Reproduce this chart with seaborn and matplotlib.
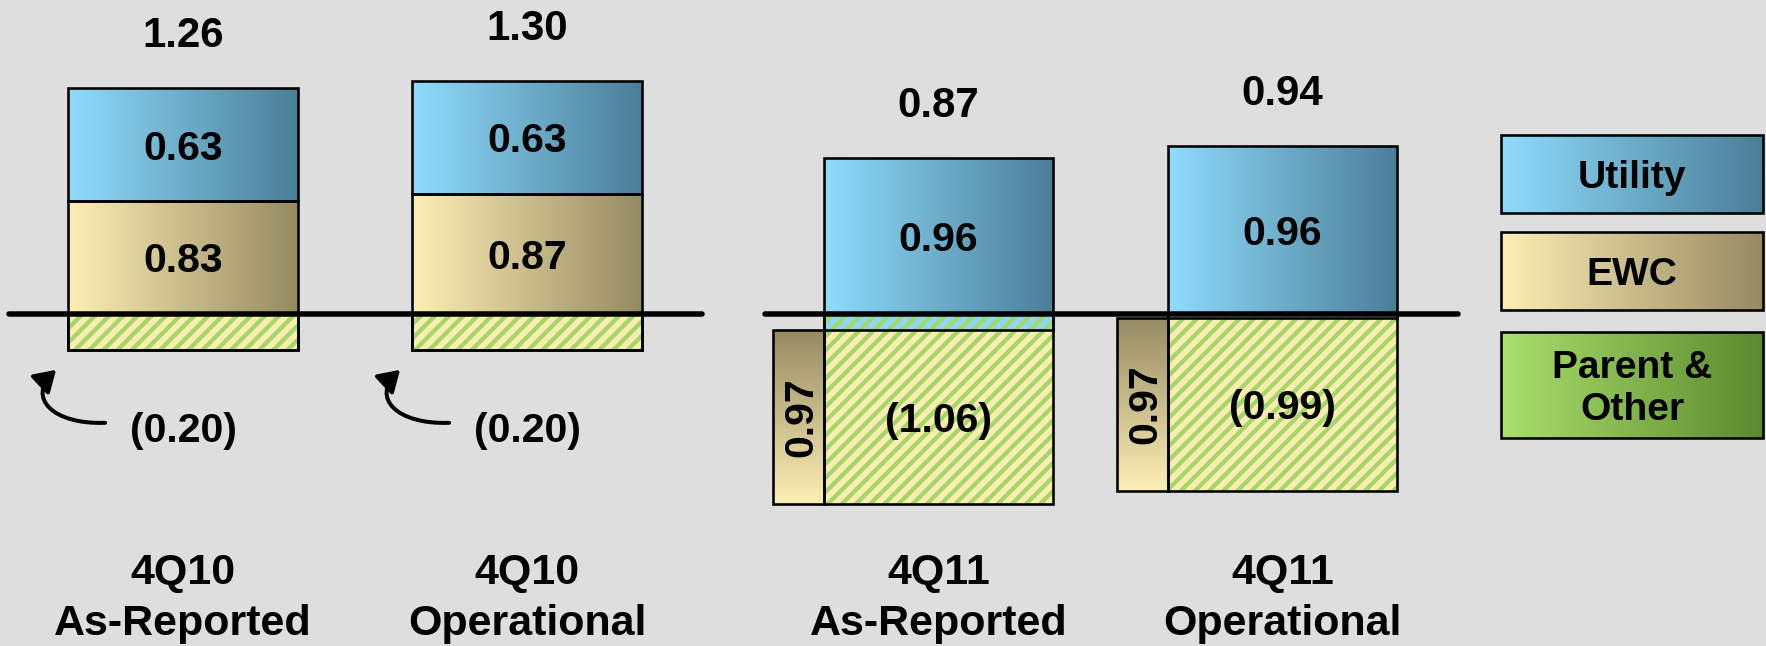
import numpy as np
import matplotlib
matplotlib.use("Agg")
import matplotlib.pyplot as plt
import seaborn as sns
from matplotlib.colors import LinearSegmentedColormap
from matplotlib.patches import Rectangle, FancyArrowPatch
from matplotlib.path import Path
from matplotlib import font_manager

# ---------------------------------------------------------------- data
periods = ["4Q10", "4Q10", "4Q11", "4Q11"]
bases = ["As-Reported", "Operational", "As-Reported", "Operational"]
utility = [0.63, 0.63, 0.96, 0.96]
ewc = [0.83, 0.87, 0.97, 0.97]
parent_other = [-0.20, -0.20, -1.06, -0.99]
eps_total = [1.26, 1.30, 0.87, 0.94]
legend_labels = ["Utility", "EWC", "Parent &\nOther"]

# ---------------------------------------------------------------- setup
DPI = 85
W, H = 1766, 646


def pt(px):
    """pixels -> points at the output resolution"""
    return px * 72 / DPI


sns.set_theme(style="white")
plt.rcParams["font.family"] = ["Liberation Sans", "DejaVu Sans"]
plt.rcParams["font.weight"] = "bold"
plt.rcParams["hatch.linewidth"] = pt(4.3)

installed = {f.name for f in font_manager.fontManager.ttflist}
if "Liberation Sans Narrow" in installed:
    CAT_FAMILY, CAT_SIZE = ["Liberation Sans Narrow", "DejaVu Sans"], 47.5
else:
    CAT_FAMILY, CAT_SIZE = ["Liberation Sans", "DejaVu Sans"], 43

BG = "#DEDEDE"
UTIL_GRAD = ("#8FDCFC", "#4B7E98")
EWC_GRAD = ("#FDEFB4", "#968A62")
PARENT_GRAD = ("#AAE06C", "#5B8A2F")
HATCH_BG = "#FBECB3"
HATCH_FG = "#A3D867"
STRIP = "#8FD7F6"
EDGE_LW = pt(2.6)

fig = plt.figure(figsize=(W / DPI, H / DPI), dpi=DPI, facecolor=BG)
ax = fig.add_axes([0, 0, 1, 1])
ax.set_facecolor(BG)

# layout: pixel scale of one data unit, and where x=0 / y=0 sit
PX_X, PX_Y = 344, 179
X0_PX, ZERO_PX = 183, 314


def to_data(px, py):
    return (px - X0_PX) / PX_X, (ZERO_PX - py) / PX_Y


# ---------------------------------------------------------------- waterfall geometry
util = np.array(utility)
ew = np.array(ewc)
par = np.array(parent_other)
tot = np.array(eps_total)

panel_names = list(dict.fromkeys(periods))
panel_idx = np.array([panel_names.index(p) for p in periods])
PANEL_GAP = 0.196
xpos = np.arange(len(periods)) + PANEL_GAP * panel_idx

BAR_W = 0.668
SIDE_W = 0.148

ewc_bottom = par
ewc_top = par + ew
util_bottom = ewc_top
side = ewc_top <= 0          # EWC column offset entirely below the axis


def bars(x, height, bottom, width, **kw):
    """Draw bars through seaborn on a native numeric x scale."""
    x = np.asarray(x, dtype=float)
    uniq = np.unique(x)
    native = np.min(np.diff(uniq)) if len(uniq) > 1 else 1.0
    before = len(ax.patches)
    sns.barplot(x=list(x), y=list(height), bottom=list(bottom), native_scale=True,
                width=width / native, errorbar=None, legend=False, ax=ax,
                color="black", saturation=1, **kw)
    return ax.patches[before:]


def shade(patches, colors, vertical=False):
    cmap = LinearSegmentedColormap.from_list("grad", list(colors))
    ramp = np.linspace(0, 1, 256)
    img = ramp[:, None] if vertical else ramp[None, :]
    for p in patches:
        x0, y0 = p.get_x(), p.get_y()
        x1, y1 = x0 + p.get_width(), y0 + p.get_height()
        im = ax.imshow(img, cmap=cmap, extent=(x0, x1, min(y0, y1), max(y0, y1)),
                       origin="lower", aspect="auto", interpolation="bilinear", zorder=2)
        im.set_clip_path(p)


outline = dict(facecolor="none", edgecolor="black", linewidth=EDGE_LW, zorder=4)

# Utility (top of each stack, ends at the total)
shade(bars(xpos, util, util_bottom, BAR_W, **outline), UTIL_GRAD)

# EWC in the main column
m = ~side
if m.any():
    shade(bars(xpos[m], ew[m], ewc_bottom[m], BAR_W, **outline), EWC_GRAD)
# EWC as a narrow offset column at the left of the bar
if side.any():
    shade(bars(xpos[side] - BAR_W / 2 - SIDE_W / 2, ew[side], ewc_bottom[side], SIDE_W,
               **outline), EWC_GRAD, vertical=True)

# Parent & Other: hatched, below the axis
bars(xpos, par, np.zeros_like(par), BAR_W, facecolor=HATCH_BG, edgecolor=HATCH_FG,
     hatch="//", linewidth=0, zorder=3)
# part of the Utility column that sits below the axis
strip = util_bottom < 0
if strip.any():
    bars(xpos[strip], -util_bottom[strip], util_bottom[strip], BAR_W, facecolor=STRIP,
         edgecolor=HATCH_FG, hatch="//", linewidth=0, zorder=3.5)
bars(xpos, par, np.zeros_like(par), BAR_W, **outline)

# zero line for each panel
for k in range(len(panel_names)):
    xs = xpos[panel_idx == k]
    ax.plot([xs.min() - 0.505, xs.max() + 0.51], [0, 0], color="black", lw=pt(5.5),
            solid_capstyle="round", zorder=6)


# ---------------------------------------------------------------- labels
def label(x, y, s, size_px, rotation=0, family=None):
    half_cap = 0.358 * size_px
    off = (pt(half_cap), 0) if rotation == 90 else (0, -pt(half_cap))
    kw = {} if family is None else {"family": family}
    ax.annotate(s, (x, y), xytext=off, textcoords="offset points", ha="center",
                va="baseline", rotation=rotation, rotation_mode="anchor",
                fontsize=pt(size_px), fontweight="bold", color="black", zorder=8, **kw)


VAL = 41
for i in range(len(periods)):
    x = xpos[i]
    # total EPS above the stack
    label(x, tot[i] + 56 / PX_Y, f"{tot[i]:.2f}", 42)
    # utility value, centred on the visible part above the axis
    label(x, (max(util_bottom[i], 0) + tot[i]) / 2, f"{util[i]:.2f}", VAL)
    # EWC value
    if side[i]:
        label(x - BAR_W / 2 - SIDE_W / 2, (ewc_bottom[i] + ewc_top[i]) / 2,
              f"{ew[i]:.2f}", VAL, rotation=90)
    else:
        label(x, (max(ewc_bottom[i], 0) + ewc_top[i]) / 2, f"{ew[i]:.2f}", VAL)
    # Parent & Other value
    ptxt = f"({abs(par[i]):.2f})"
    hatched_top = min(util_bottom[i], 0)
    if (hatched_top - par[i]) * PX_Y > 70:
        label(x, (hatched_top + par[i]) / 2, ptxt, VAL)
    else:
        label(x, par[i] - 78 / PX_Y, ptxt, VAL)
        left = x - BAR_W / 2
        verts = [(left + 37 / PX_X, par[i] - 73 / PX_Y),
                 (left - 15 / PX_X, par[i] - 75 / PX_Y),
                 (left - 42 / PX_X, par[i] - 48 / PX_Y),
                 (left - 12 / PX_X, par[i] - 20 / PX_Y)]
        path = Path(verts, [Path.MOVETO, Path.CURVE4, Path.CURVE4, Path.CURVE4])
        ax.add_patch(FancyArrowPatch(path=path, arrowstyle="-|>,head_length=0.8,head_width=0.5",
                                     mutation_scale=pt(22), lw=pt(4), color="black",
                                     zorder=7, shrinkA=0, shrinkB=0))
    # category label below the chart
    y1 = (ZERO_PX - 569) / PX_Y
    y2 = (ZERO_PX - 620) / PX_Y
    label(x, y1, periods[i], CAT_SIZE, family=CAT_FAMILY)
    label(x, y2, bases[i], CAT_SIZE, family=CAT_FAMILY)

# ---------------------------------------------------------------- legend boxes
legend_boxes = [(135, 213), (232, 310), (332, 438)]
legend_grads = [UTIL_GRAD, EWC_GRAD, PARENT_GRAD]
LEG_L, LEG_R = 1501, 1763
for text, (top, bot), grad in zip(legend_labels, legend_boxes, legend_grads):
    x0, y1 = to_data(LEG_L, top)
    x1, y0 = to_data(LEG_R, bot)
    rect = Rectangle((x0, y0), x1 - x0, y1 - y0, facecolor="none", edgecolor="black",
                     linewidth=EDGE_LW, zorder=4)
    ax.add_patch(rect)
    shade([rect], grad)
    lines = text.split("\n")
    step = 42
    mid_py = (top + bot) / 2
    first = mid_py - step * (len(lines) - 1) / 2
    for j, line in enumerate(lines):
        cx, cy = to_data((LEG_L + LEG_R) / 2, first + j * step)
        label(cx, cy, line, 39)

ax.set_xlim(to_data(0, 0)[0], to_data(W, 0)[0])
ax.set_ylim(to_data(0, H)[1], to_data(0, 0)[1])
ax.set_axis_off()

fig.savefig("out.png", dpi=DPI, facecolor=BG)
